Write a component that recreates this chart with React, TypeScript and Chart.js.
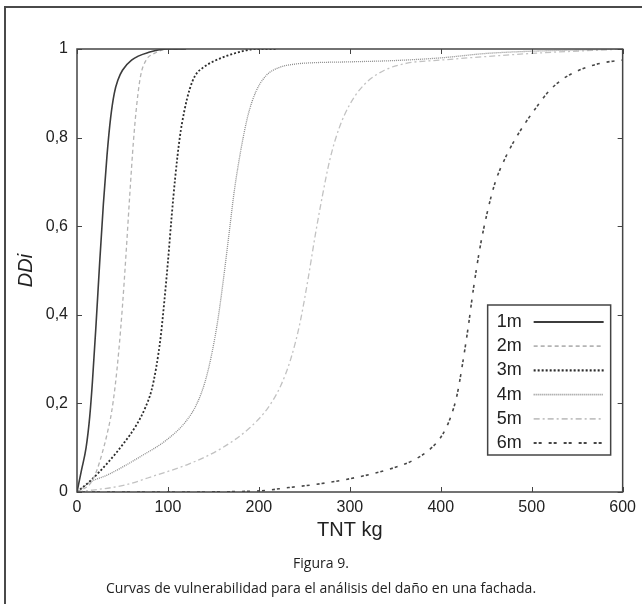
import React, { useEffect, useRef } from "react";
import { Chart, registerables } from "chart.js";

Chart.register(...registerables);

// ---------------- data ----------------
const seriesLabels = ["1m", "2m", "3m", "4m", "5m", "6m"];

const x1m = [0, 5, 10, 14, 17, 21, 25, 29, 33, 37, 41, 45, 50, 60, 80, 100, 120];
const y1m = [0, 0.05, 0.1, 0.17, 0.25, 0.38, 0.52, 0.65, 0.76, 0.845, 0.9, 0.93, 0.952, 0.975, 0.993, 1, 1];

const x2m = [0, 15, 22, 28, 33, 38, 42, 46, 50, 54, 58, 62, 66, 70, 76, 85, 100, 120];
const y2m = [0, 0.02, 0.05, 0.09, 0.13, 0.18, 0.24, 0.32, 0.42, 0.54, 0.67, 0.79, 0.88, 0.94, 0.975, 0.99, 1, 1];

const x3m = [0, 15, 33, 51, 65, 75, 82, 87, 92, 96, 100, 104, 108, 113, 118, 124, 130, 140, 150, 173, 198, 220];
const y3m = [0, 0.026, 0.064, 0.109, 0.15, 0.19, 0.23, 0.28, 0.35, 0.43, 0.52, 0.62, 0.71, 0.8, 0.86, 0.91, 0.94, 0.96, 0.972, 0.99, 1, 1];

const x4m = [0, 15, 33, 69, 100, 120, 132, 141, 148, 155, 161, 167, 173, 180, 188, 197, 208, 222, 240, 260, 300, 350, 400, 450, 500, 600];
const y4m = [0, 0.023, 0.038, 0.079, 0.12, 0.16, 0.2, 0.25, 0.31, 0.39, 0.48, 0.58, 0.68, 0.77, 0.85, 0.905, 0.94, 0.958, 0.966, 0.969, 0.971, 0.974, 0.98, 0.99, 0.995, 1];

const x5m = [0, 51, 87, 124, 160, 190, 210, 224, 235, 245, 254, 262, 270, 278, 288, 300, 316, 338, 363, 400, 450, 500, 600];
const y5m = [0, 0.015, 0.038, 0.064, 0.1, 0.145, 0.19, 0.24, 0.3, 0.38, 0.48, 0.58, 0.67, 0.75, 0.82, 0.875, 0.92, 0.952, 0.968, 0.975, 0.983, 0.99, 1];

const x6m = [0, 100, 196, 233, 269, 305, 341, 370, 390, 402, 411, 418, 424, 430, 436, 443, 451, 460, 470, 480, 492, 505, 519, 534, 552, 570, 584, 600];
const y6m = [0, 0, 0.002, 0.01, 0.019, 0.032, 0.05, 0.072, 0.1, 0.13, 0.17, 0.22, 0.29, 0.37, 0.46, 0.55, 0.63, 0.7, 0.75, 0.79, 0.83, 0.868, 0.905, 0.932, 0.952, 0.965, 0.971, 0.975];

const xTicks = [0, 100, 200, 300, 400, 500, 600];
const xTickLabels = ["0", "100", "200", "300", "400", "500", "600"];
const yTicks = [0, 0.2, 0.4, 0.6, 0.8, 1];
const yTickLabels = ["0", "0,2", "0,4", "0,6", "0,8", "1"];

const xAxisTitle = "TNT kg";
const yAxisTitle = "DDi";
const figureLabel = "Figura 9.";
const captionText = "Curvas de vulnerabilidad para el análisis del daño en una fachada.";

// ---------------- styles ----------------
const seriesStyles = [
  { color: "#3c3c3c", width: 1.6, dash: [] as number[] },
  { color: "#b4b4b4", width: 1.3, dash: [4, 3] },
  { color: "#2c2c2c", width: 1.8, dash: [2, 2] },
  { color: "#8c8c8c", width: 1.3, dash: [1, 1] },
  { color: "#c2c2c2", width: 1.3, dash: [6, 3, 2, 3] },
  { color: "#474747", width: 1.6, dash: [3, 2, 3, 7] },
];

const FONT = "'Liberation Sans', Arial, sans-serif";

const seriesX = [x1m, x2m, x3m, x4m, x5m, x6m];
const seriesY = [y1m, y2m, y3m, y4m, y5m, y6m];

const pagePlugin = {
  id: "pageBorder",
  beforeDraw(chart: any) {
    const { ctx, width, height } = chart;
    ctx.save();
    ctx.fillStyle = "#ffffff";
    ctx.fillRect(0, 0, width, height);
    ctx.strokeStyle = "#4a4a4a";
    ctx.lineWidth = 2;
    ctx.beginPath();
    ctx.moveTo(5, height);
    ctx.lineTo(5, 7);
    ctx.lineTo(width, 7);
    ctx.stroke();
    ctx.restore();
  },
};

const framePlugin = {
  id: "frameTicks",
  afterDatasetsDraw(chart: any) {
    const { ctx, chartArea: a, scales } = chart;
    ctx.save();
    ctx.strokeStyle = "#444";
    ctx.lineWidth = 1.5;
    ctx.strokeRect(a.left, a.top, a.right - a.left, a.bottom - a.top);
    ctx.lineWidth = 1;
    const tl = 5;
    const seg = (x1: number, y1: number, x2: number, y2: number) => {
      ctx.beginPath();
      ctx.moveTo(x1, y1);
      ctx.lineTo(x2, y2);
      ctx.stroke();
    };
    scales.x.ticks.forEach((t: any) => {
      const px = Math.round(scales.x.getPixelForValue(t.value)) + 0.5;
      seg(px, a.bottom, px, a.bottom - tl);
      seg(px, a.top, px, a.top + tl);
    });
    scales.y.ticks.forEach((t: any) => {
      const py = Math.round(scales.y.getPixelForValue(t.value)) + 0.5;
      seg(a.left, py, a.left + tl, py);
      seg(a.right, py, a.right - tl, py);
    });
    ctx.restore();
  },
};

const legendPlugin = {
  id: "innerLegend",
  afterDraw(chart: any) {
    const { ctx, chartArea: a } = chart;
    const boxW = 123;
    const boxH = 150;
    const right = a.right - 12;
    const bottom = a.bottom - 37;
    const left = right - boxW;
    const top = bottom - boxH;
    ctx.save();
    ctx.fillStyle = "#fff";
    ctx.fillRect(left, top, boxW, boxH);
    ctx.strokeStyle = "#444";
    ctx.lineWidth = 1.5;
    ctx.strokeRect(left, top, boxW, boxH);
    ctx.font = `18px ${FONT}`;
    ctx.textBaseline = "middle";
    ctx.textAlign = "left";
    chart.data.datasets.forEach((ds: any, i: number) => {
      const cy = top + 17 + i * 24.2;
      ctx.fillStyle = "#222";
      ctx.fillText(ds.label, left + 9, cy);
      ctx.strokeStyle = ds.borderColor;
      ctx.lineWidth = ds.borderWidth + 0.4;
      ctx.setLineDash(ds.borderDash);
      ctx.beginPath();
      ctx.moveTo(left + 46, cy);
      ctx.lineTo(left + 116, cy);
      ctx.stroke();
      ctx.setLineDash([]);
    });
    ctx.restore();
  },
};

export default function App() {
  const canvasRef = useRef<HTMLCanvasElement | null>(null);

  useEffect(() => {
    const canvas = canvasRef.current;
    if (!canvas) return;
    const datasets = seriesLabels.map((label, k) => ({
      label,
      data: seriesX[k].map((x, i) => ({ x, y: seriesY[k][i] })),
      borderColor: seriesStyles[k].color,
      borderWidth: seriesStyles[k].width,
      borderDash: seriesStyles[k].dash,
      pointRadius: 0,
      fill: false,
      cubicInterpolationMode: "monotone" as const,
    }));

    const chart = new Chart(canvas, {
      type: "line",
      data: { datasets },
      plugins: [pagePlugin, framePlugin, legendPlugin],
      options: {
        animation: false,
        responsive: false,
        devicePixelRatio: 1,
        events: [],
        layout: { padding: { left: 14, right: 14, top: 49, bottom: 62 } },
        plugins: {
          legend: { display: false },
          tooltip: { enabled: false },
          title: { display: false },
        },
        scales: {
          x: {
            type: "linear",
            min: 0,
            max: 600,
            afterBuildTicks: (axis: any) => {
              axis.ticks = xTicks.map((v) => ({ value: v }));
            },
            afterFit: (s: any) => {
              s.height = 50;
            },
            grid: { display: false, drawTicks: false },
            border: { display: false },
            ticks: {
              padding: 6,
              autoSkip: false,
              maxRotation: 0,
              color: "#222",
              font: { family: FONT, size: 16 },
              callback: (_v: any, i: number) => xTickLabels[i],
            },
            title: {
              display: true,
              text: xAxisTitle,
              color: "#222",
              padding: 0,
              font: { family: FONT, size: 20 },
            },
          },
          y: {
            type: "linear",
            min: 0,
            max: 1,
            afterBuildTicks: (axis: any) => {
              axis.ticks = yTicks.map((v) => ({ value: v }));
            },
            afterFit: (s: any) => {
              s.width = 63;
            },
            grid: { display: false, drawTicks: false },
            border: { display: false },
            ticks: {
              padding: 9,
              autoSkip: false,
              color: "#222",
              font: { family: FONT, size: 16 },
              callback: (_v: any, i: number) => yTickLabels[i],
            },
            title: {
              display: true,
              text: yAxisTitle,
              color: "#222",
              padding: 0,
              font: { family: FONT, size: 20, style: "italic" },
            },
          },
        },
      },
    });
    return () => chart.destroy();
  }, []);

  const captionStyle: React.CSSProperties = {
    position: "absolute",
    left: 0,
    width: 642,
    textAlign: "center",
    fontFamily: "'Open Sans', 'Noto Sans', sans-serif",
    fontSize: 14,
    lineHeight: "16px",
    color: "#222",
  };

  return (
    <div style={{ position: "fixed", left: 0, top: 0, width: 642, height: 604, background: "#fff" }}>
      <canvas ref={canvasRef} width={642} height={604} style={{ display: "block", width: 642, height: 604 }} />
      <div style={{ ...captionStyle, top: 555 }}>{figureLabel}</div>
      <div style={{ ...captionStyle, top: 580 }}>{captionText}</div>
    </div>
  );
}
